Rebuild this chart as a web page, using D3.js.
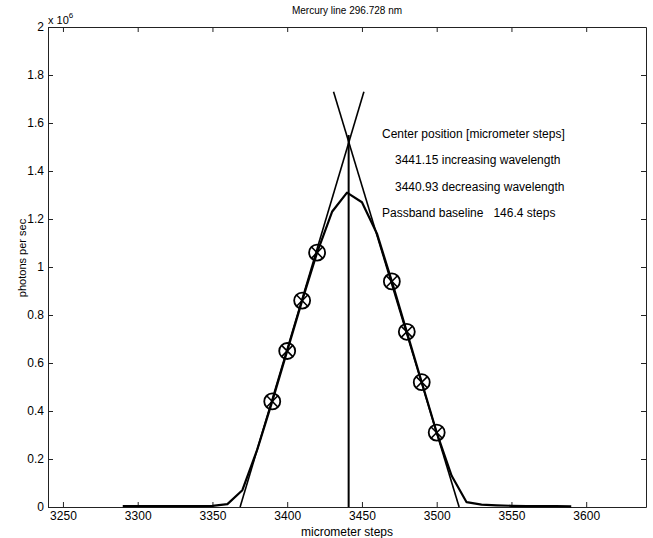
<!DOCTYPE html>
<html lang="en">
<head>
<meta charset="UTF-8">
<title>Mercury line 296.728 nm</title>
<script src="https://unpkg.com/d3@7/dist/d3.min.js"></script>
<style>
  body { margin: 0; background: #fff; }
  text { font-family: "Liberation Sans", Arial, sans-serif; fill: #000; }
</style>
</head>
<body>
<script>
// measured scan, micrometer steps vs photons per sec (x 1e6)
var steps = [3290, 3300, 3310, 3320, 3330, 3340, 3350, 3360, 3370, 3380, 3390, 3400, 3410, 3420, 3430, 3440,
             3450, 3460, 3470, 3480, 3490, 3500, 3510, 3520, 3530, 3540, 3550, 3560, 3570, 3580, 3590];
var photons = [0.004, 0.004, 0.004, 0.004, 0.004, 0.004, 0.005, 0.012, 0.07, 0.24, 0.44, 0.65, 0.86, 1.06, 1.23, 1.31,
               1.27, 1.14, 0.94, 0.73, 0.52, 0.31, 0.13, 0.02, 0.01, 0.007, 0.005, 0.004, 0.004, 0.004, 0.003];

// points used for the flank fits
var fitSteps = [3390, 3400, 3410, 3420, 3470, 3480, 3490, 3500];
var fitPhotons = [0.44, 0.65, 0.86, 1.06, 0.94, 0.73, 0.52, 0.31];

// fitted flank lines (end points)
var riseLine = [[3368.5, 0], [3451.3, 1.73]];
var fallLine = [[3431, 1.73], [3515, 0]];
var centerLine = [[3441.1, 0], [3441.1, 1.55]];

var xTicks = [3250, 3300, 3350, 3400, 3450, 3500, 3550, 3600];
var yTicks = [0, 0.2, 0.4, 0.6, 0.8, 1, 1.2, 1.4, 1.6, 1.8, 2];

var notes = ["Center position [micrometer steps]",
             "3441.15 increasing wavelength",
             "3440.93 decreasing wavelength",
             "Passband baseline   146.4 steps"];

var W = 653, H = 538;
var m = {left: 48, right: 7, top: 27, bottom: 31};

var svg = d3.select("body").append("svg")
            .attr("width", W)
            .attr("height", H);

var x = d3.scaleLinear().domain([3240, 3640]).range([m.left, W - m.right]);
var y = d3.scaleLinear().domain([0, 2]).range([H - m.bottom, m.top]);

var line = d3.line().x(d => x(d[0])).y(d => y(d[1]));

// axes on all four sides, ticks pointing inward
svg.append("g")
   .attr("transform", "translate(0," + y(0) + ")")
   .call(d3.axisBottom(x).tickValues(xTicks).tickSizeInner(-5).tickSizeOuter(0).tickPadding(4).tickFormat(d3.format("d")))
   .call(g => g.selectAll("text").attr("font-size", 12));
svg.append("g")
   .attr("transform", "translate(0," + y(2) + ")")
   .call(d3.axisTop(x).tickValues(xTicks).tickSizeInner(-5).tickSizeOuter(0).tickFormat(""));
svg.append("g")
   .attr("transform", "translate(" + x(3240) + ",0)")
   .call(d3.axisLeft(y).tickValues(yTicks).tickSizeInner(-5).tickSizeOuter(0).tickPadding(4).tickFormat(d3.format("~g")))
   .call(g => g.selectAll("text").attr("font-size", 12));
svg.append("g")
   .attr("transform", "translate(" + x(3640) + ",0)")
   .call(d3.axisRight(y).tickValues(yTicks).tickSizeInner(-5).tickSizeOuter(0).tickFormat(""));

svg.selectAll(".domain").attr("stroke", "#222");
svg.selectAll(".tick line").attr("stroke", "#222");

// data
svg.append("path")
   .datum(steps.map((s, i) => [s, photons[i]]))
   .attr("d", line)
   .attr("fill", "none")
   .attr("stroke", "#000")
   .attr("stroke-width", 2.2)
   .attr("stroke-linejoin", "round");

[riseLine, fallLine].forEach(function(l) {
  svg.append("path")
     .datum(l)
     .attr("d", line)
     .attr("fill", "none")
     .attr("stroke", "#000")
     .attr("stroke-width", 1.6);
});

svg.append("path")
   .datum(centerLine)
   .attr("d", line)
   .attr("fill", "none")
   .attr("stroke", "#000")
   .attr("stroke-width", 2);

// circled crosses on fit points
var marks = svg.selectAll(".mk")
   .data(fitSteps.map((s, i) => [s, fitPhotons[i]]))
   .enter().append("g")
   .attr("transform", d => "translate(" + x(d[0]) + "," + y(d[1]) + ")");
var r = 8, c = r * 0.7;
marks.append("circle").attr("r", r).attr("fill", "none").attr("stroke", "#000").attr("stroke-width", 1.8);
marks.append("path")
     .attr("d", "M" + (-c) + "," + (-c) + "L" + c + "," + c + "M" + (-c) + "," + c + "L" + c + "," + (-c))
     .attr("stroke", "#000").attr("stroke-width", 1.6);

// annotation text
var noteX = [382, 395, 395, 382];
var noteY = [134, 160, 187, 213];
svg.selectAll(".note")
   .data(notes)
   .enter().append("text")
   .attr("x", (d, i) => noteX[i])
   .attr("y", (d, i) => noteY[i])
   .attr("dy", "0.35em")
   .attr("font-size", 12)
   .style("white-space", "pre")
   .text(d => d);

// title and labels
svg.append("text")
   .attr("x", 347).attr("y", 14)
   .attr("text-anchor", "middle")
   .attr("font-size", 10)
   .text("Mercury line 296.728 nm");

svg.append("text")
   .attr("x", 347).attr("y", 536)
   .attr("text-anchor", "middle")
   .attr("font-size", 12)
   .text("micrometer steps");

svg.append("text")
   .attr("transform", "translate(26,258) rotate(-90)")
   .attr("text-anchor", "middle")
   .attr("font-size", 11)
   .text("photons per sec");

var ex = svg.append("text").attr("x", 48).attr("y", 24).attr("font-size", 11);
ex.append("tspan").text("x 10");
ex.append("tspan").attr("dy", -6).attr("font-size", 8).text("6");
</script>
</body>
</html>
